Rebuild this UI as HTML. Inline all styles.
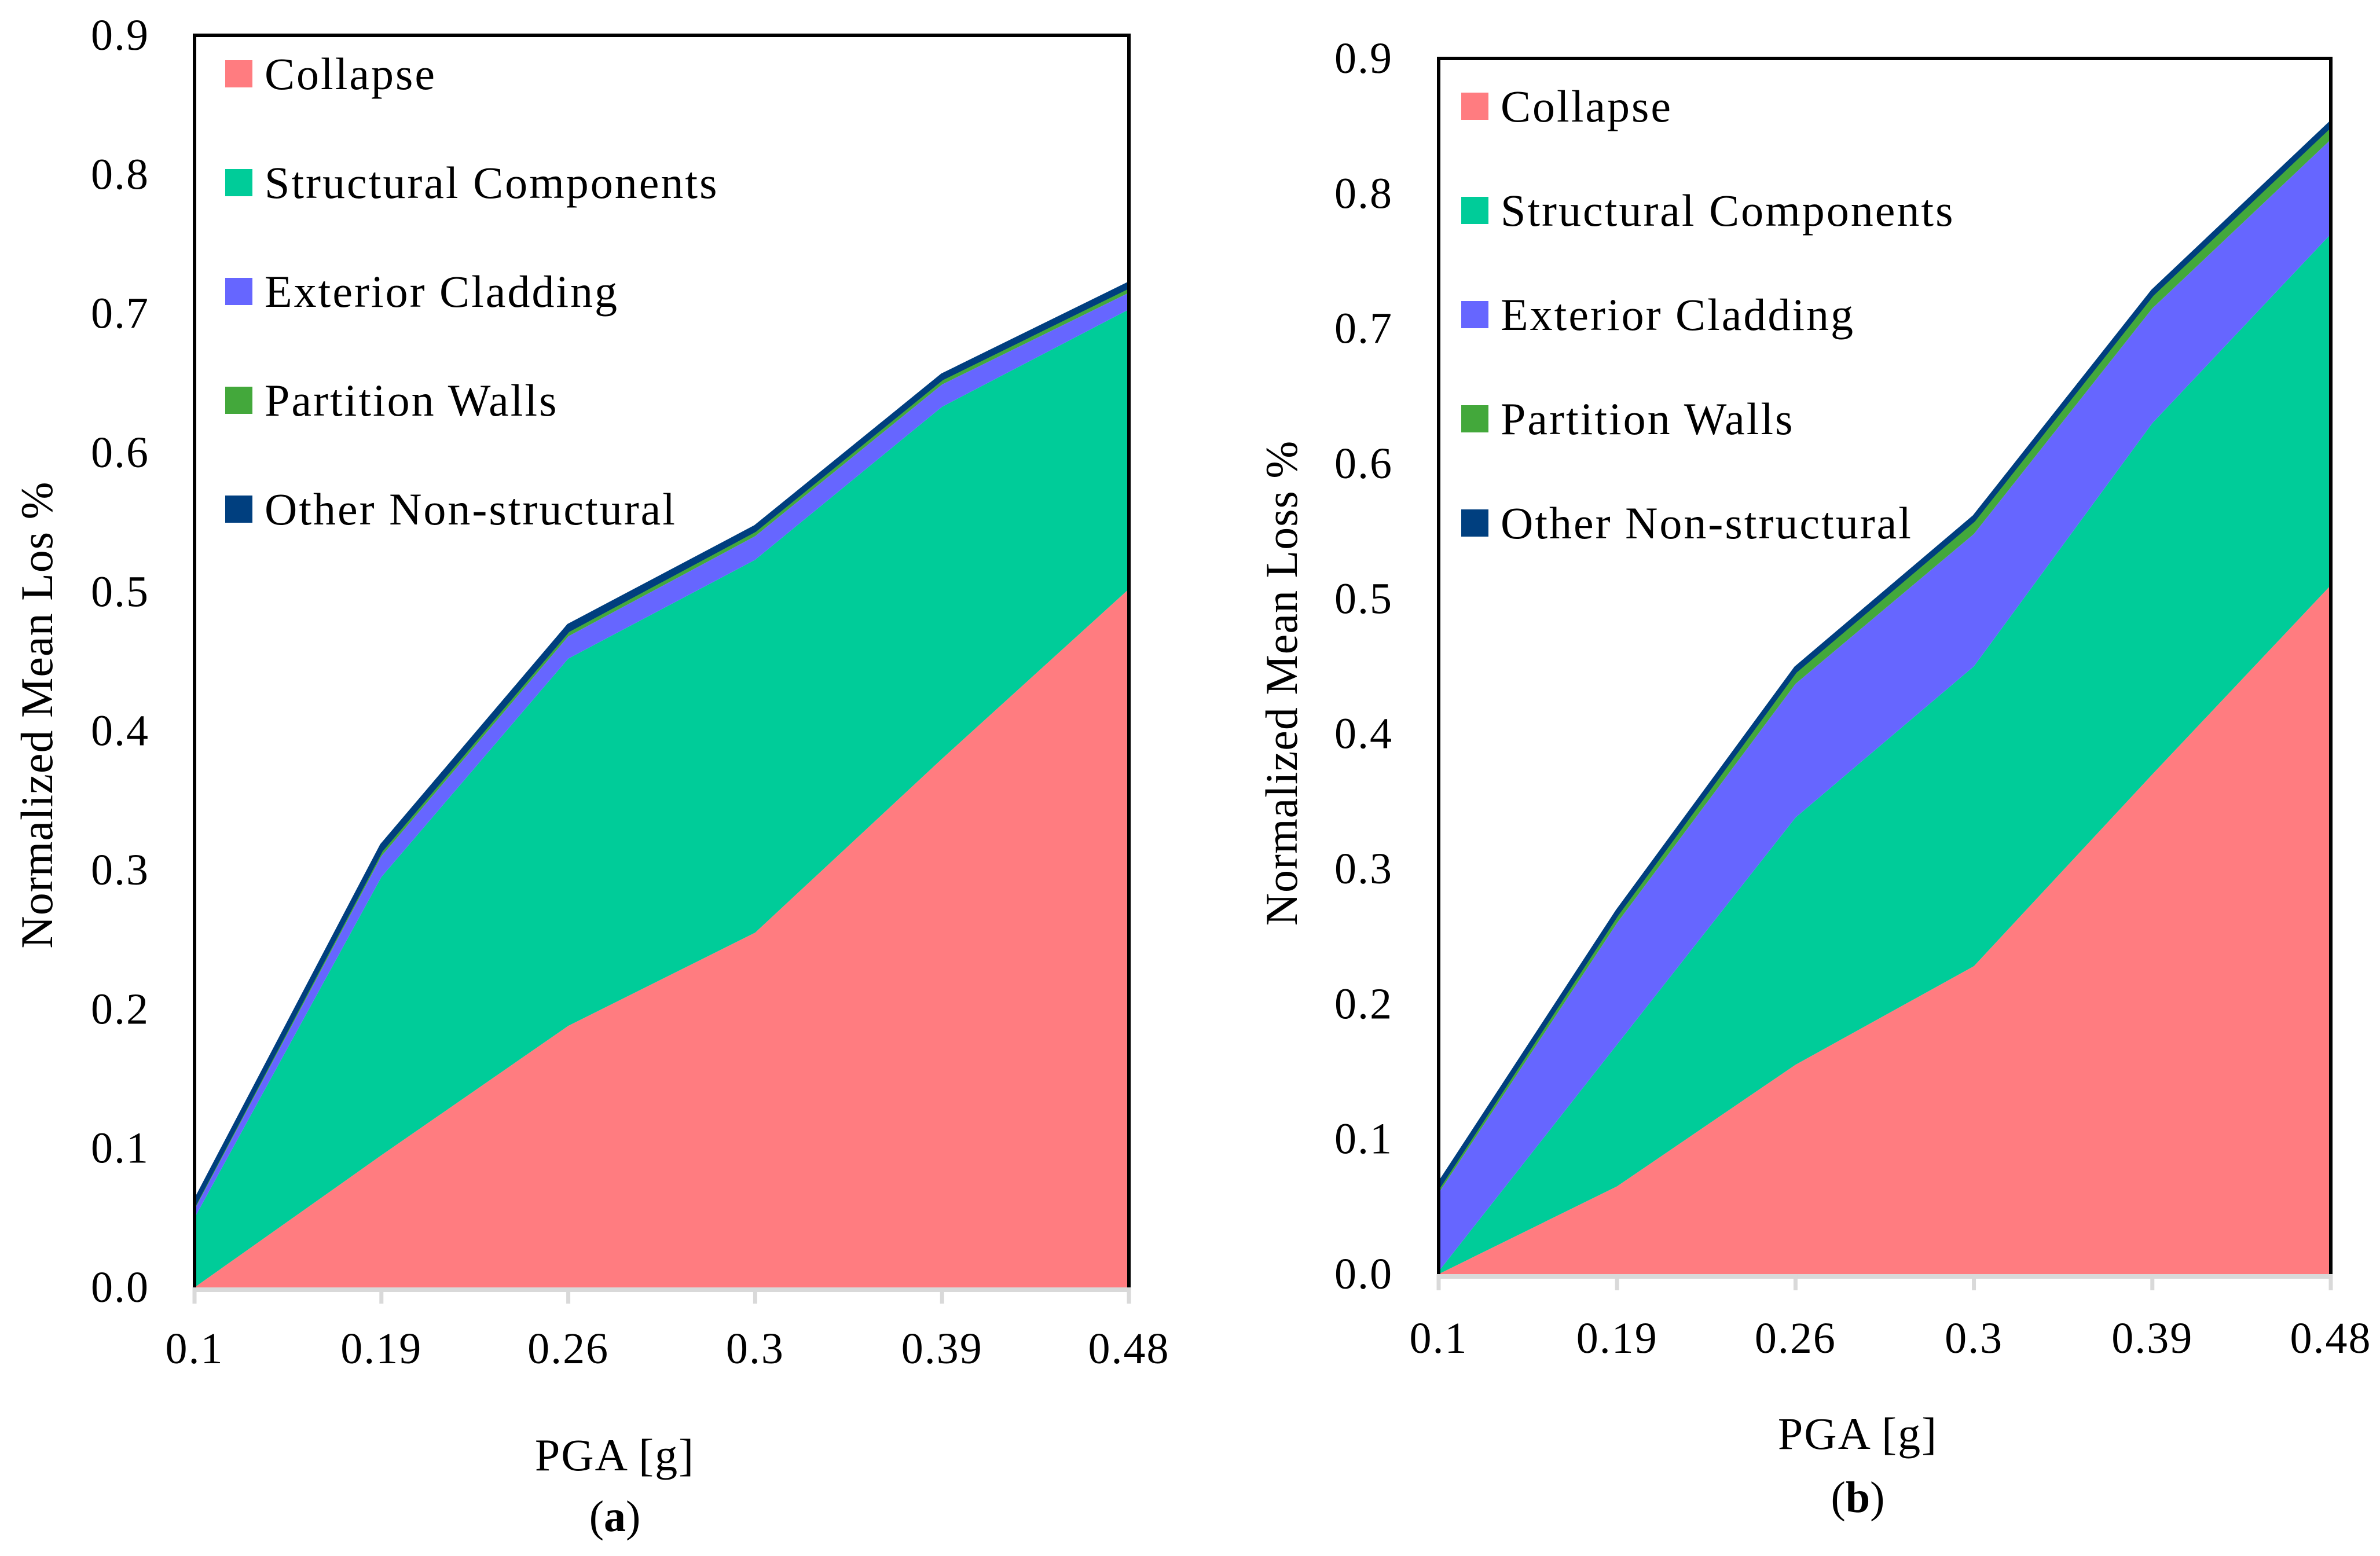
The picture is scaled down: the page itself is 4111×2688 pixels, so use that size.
<!DOCTYPE html>
<html><head><meta charset="utf-8">
<style>
html,body{margin:0;padding:0;background:#fff;}
svg{display:block;font-family:"Liberation Serif",serif;}
</style></head>
<body>
<svg id="chart" width="4111" height="2688" viewBox="0 0 4111 2688" xmlns="http://www.w3.org/2000/svg"></svg>
<script>
const categories = ["0.1","0.19","0.26","0.3","0.39","0.48"];
const seriesNames = ["Collapse","Structural Components","Exterior Cladding","Partition Walls","Other Non-structural"];
const seriesColors = ["#ff7c80","#00cc99","#6666ff","#43a83b","#003f7f"];
const yTicks = [0,0.1,0.2,0.3,0.4,0.5,0.6,0.7,0.8,0.9];
const yTickLabels = ["0.0","0.1","0.2","0.3","0.4","0.5","0.6","0.7","0.8","0.9"];
// panel (a)
const aCollapse = [0, 0.095, 0.188, 0.255, 0.38, 0.502];
const aStructural = [0.05, 0.2, 0.264, 0.268, 0.253, 0.201];
const aCladding = [0.006, 0.015, 0.016, 0.017, 0.016, 0.012];
const aPartition = [0.003, 0.004, 0.004, 0.004, 0.004, 0.004];
const aOther = [0.003, 0.004, 0.004, 0.003, 0.003, 0.003];
// panel (b)
const bCollapse = [0, 0.065, 0.155, 0.228, 0.37, 0.51];
const bStructural = [0.002, 0.105, 0.183, 0.222, 0.26, 0.26];
const bCladding = [0.058, 0.09, 0.099, 0.098, 0.085, 0.07];
const bPartition = [0.004, 0.006, 0.009, 0.01, 0.01, 0.01];
const bOther = [0.003, 0.003, 0.003, 0.003, 0.003, 0.003];

const NS = "http://www.w3.org/2000/svg";
const svg = document.getElementById("chart");
function mk(tag, attrs, parent, text){
  const e = document.createElementNS(NS, tag);
  for (const k in attrs) e.setAttribute(k, attrs[k]);
  if (text !== undefined) e.textContent = text;
  (parent||svg).appendChild(e);
  return e;
}

function drawPanel(cfg){
  const g = mk("g", {});
  
  
  const {x0,x1,y0,y1} = cfg;
  const xs = i => x0 + (x1-x0)*i/(categories.length-1);
  const ys = v => y0 - (y0-y1)*v/0.9;
  const series = cfg.series;
  let base = categories.map(()=>0);
  series.forEach((vals, si)=>{
    const top = base.map((b,i)=>b+vals[i]);
    let d = "M" + top.map((t,i)=>xs(i)+","+ys(t)).join(" L");
    for (let i=categories.length-1;i>=0;i--) d += " L"+xs(i)+","+ys(base[i]);
    d += " Z";
    const p = mk("path", {d:d, fill:seriesColors[si], stroke: si===series.length-1?seriesColors[si]:"none", "stroke-width":si===series.length-1?5:0}, g);
    
    
    base = top;
  });
  const fr = mk("path", {d:`M${x0},${y0} L${x0},${y1} L${x1},${y1} L${x1},${y0}`, fill:"none", stroke:"#000", "stroke-width":6}, g);
  
  
  const xa = mk("line", {x1:x0, y1:y0+4, x2:x1+3, y2:y0+4, stroke:"#d9d9d9", "stroke-width":8}, g);
  
  
  categories.forEach((c,i)=>{
    const t = mk("line", {x1:xs(i), y1:y0, x2:xs(i), y2:y0+28, stroke:"#d9d9d9", "stroke-width":7}, g);
    
    
    const l = mk("text", {x:xs(i), y:cfg.xLabelY, "font-size":76, "text-anchor":"middle", "letter-spacing":2, fill:"#000"}, g, c);
    
    
  });
  yTicks.forEach((v,i)=>{
    const l = mk("text", {x:cfg.yLabelX, y:ys(v)+25, "font-size":76, "text-anchor":"end", "letter-spacing":2, fill:"#000"}, g, yTickLabels[i]);
    
    
  });
  const yt = mk("text", {x:0, y:0, "font-size":78, "text-anchor":"middle", "letter-spacing":1, transform:`translate(${cfg.yTitleX},${cfg.yTitleY}) rotate(-90)`}, g, cfg.yTitle);
  
  
  const xt = mk("text", {x:cfg.xTitleX, y:cfg.xTitleY, "font-size":78, "text-anchor":"middle", "letter-spacing":2}, g, "PGA [g]");
  
  
  const cap = mk("text", {x:cfg.xTitleX, y:cfg.capY, "font-size":76, "text-anchor":"middle"}, g);
  
  
  mk("tspan", {}, cap, "(");
  mk("tspan", {"font-weight":"bold"}, cap, cfg.cap);
  mk("tspan", {}, cap, ")");
  seriesNames.forEach((n,i)=>{
    const cy = cfg.legY + cfg.legStep*i;
    const le = mk("g", {}, g);
    
    
    mk("rect", {x:cfg.legX, y:cy-24, width:47, height:47, fill:seriesColors[i]}, le);
    mk("text", {x:cfg.legX+68, y:cy+26, "font-size":78, "letter-spacing":3}, le, n);
  });
}

drawPanel({name:"panel-a", x0:336, x1:1950, y0:2224, y1:61,
  series:[aCollapse,aStructural,aCladding,aPartition,aOther],
  xLabelY:2355, yLabelX:258, yTitle:"Normalized Mean Los %", yTitleX:90, yTitleY:1235,
  xTitleX:1062, xTitleY:2540, capY:2645, cap:"a",
  legX:389, legY:128, legStep:188});
drawPanel({name:"panel-b", x0:2485, x1:4026, y0:2201, y1:101,
  series:[bCollapse,bStructural,bCladding,bPartition,bOther],
  xLabelY:2337, yLabelX:2406, yTitle:"Normalized Mean Loss %", yTitleX:2240, yTitleY:1180,
  xTitleX:3209, xTitleY:2503, capY:2612, cap:"b",
  legX:2524, legY:184, legStep:180});
</script>
</body></html>
